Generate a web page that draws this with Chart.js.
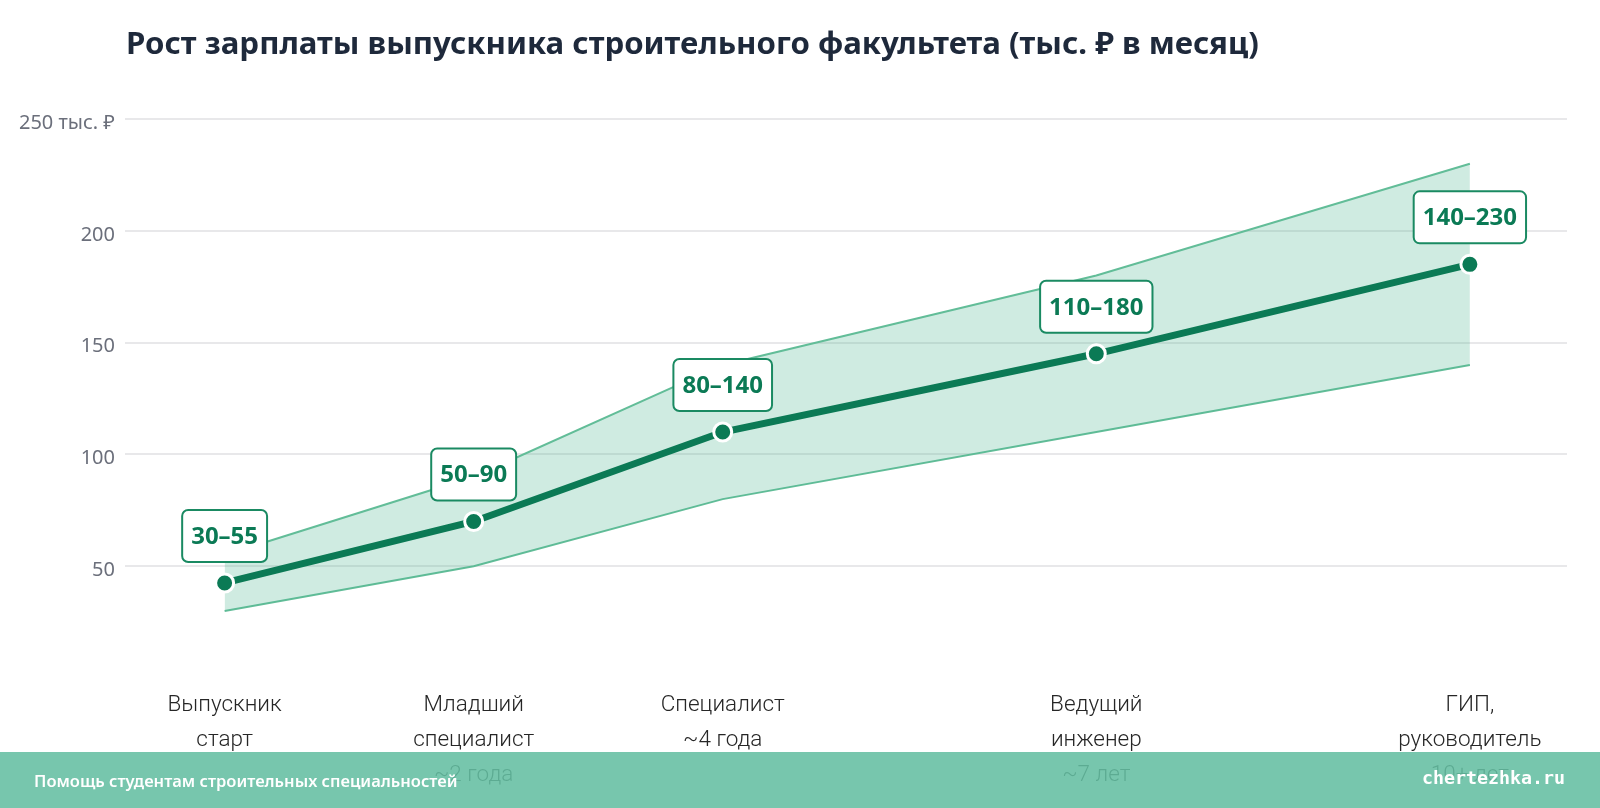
<!DOCTYPE html>
<html lang="ru">
<head>
<meta charset="utf-8">
<script src="https://cdn.jsdelivr.net/npm/chart.js@4"></script>
<style>
  html, body { margin: 0; padding: 0; background: #fff; }
  #wrap { position: relative; width: 1600px; height: 808px; overflow: hidden; }
  #title {
    position: absolute; left: 126px; top: 21px;
    font: 700 31.2px "Noto Sans", sans-serif; color: #1e293b; white-space: nowrap;
  }
  #footer {
    position: absolute; left: 0; top: 752px; width: 1600px; height: 56px;
    background: rgba(100, 190, 162, 0.88);
  }
  #footer .left {
    position: absolute; left: 34px; top: 17px;
    font: 600 16.5px "Noto Sans", sans-serif; color: #fff;
  }
  #footer .right {
    position: absolute; right: 35px; top: 15px;
    font: 700 18.3px "DejaVu Sans Mono", monospace; color: #fff;
  }
</style>
</head>
<body>
<div id="wrap">
  <canvas id="salary-chart" width="1600" height="808"></canvas>
  <div id="title">Рост зарплаты выпускника строительного факультета (тыс. ₽ в месяц)</div>
  <div id="footer">
    <span class="left">Помощь студентам строительных специальностей</span>
    <span class="right">chertezhka.ru</span>
  </div>
</div>
<script>
// Career stages: years of experience on the x axis
const stageYears = [0, 2, 4, 7, 10];
const stageLabels = [
  ["Выпускник", "старт"],
  ["Младший", "специалист", "~2 года"],
  ["Специалист", "~4 года"],
  ["Ведущий", "инженер", "~7 лет"],
  ["ГИП,", "руководитель", "10+ лет"]
];
// Salary range, thousand rubles per month
const salaryLow = [30, 50, 80, 110, 140];
const salaryHigh = [55, 90, 140, 180, 230];
const salaryMid = [42.5, 70, 110, 145, 185];
const rangeLabels = ["30–55", "50–90", "80–140", "110–180", "140–230"];
const yTicks = [0, 50, 100, 150, 200, 250];

const green = "#0b7a55";

function toPoints(values) {
  return stageYears.map((year, i) => ({ x: year, y: values[i] }));
}

// Draws the boxed range labels above each median point
const rangeLabelPlugin = {
  id: "rangeLabels",
  afterDatasetsDraw(chart) {
    const ctx = chart.ctx;
    const meta = chart.getDatasetMeta(2);
    ctx.save();
    ctx.font = "700 24px 'Noto Sans', sans-serif";
    ctx.textAlign = "center";
    ctx.textBaseline = "middle";
    meta.data.forEach((pt, i) => {
      const text = rangeLabels[i];
      const w = ctx.measureText(text).width + 18;
      const h = 52;
      const cx = pt.x;
      const cy = pt.y - 47;
      ctx.beginPath();
      ctx.roundRect(cx - w / 2, cy - h / 2, w, h, 6);
      ctx.fillStyle = "#ffffff";
      ctx.fill();
      ctx.lineWidth = 2;
      ctx.strokeStyle = "#1a8a62";
      ctx.stroke();
      ctx.fillStyle = green;
      ctx.fillText(text, cx, cy + 1);
    });
    ctx.restore();
  }
};

const chart = new Chart(document.getElementById("salary-chart"), {
  type: "line",
  data: {
    datasets: [
      {
        data: toPoints(salaryHigh),
        borderColor: "#62bd98",
        borderWidth: 2,
        backgroundColor: "rgba(79, 181, 143, 0.27)",
        fill: "+1",
        pointRadius: 0,
        order: 2
      },
      {
        data: toPoints(salaryLow),
        borderColor: "#62bd98",
        borderWidth: 2,
        fill: false,
        pointRadius: 0,
        order: 2
      },
      {
        data: toPoints(salaryMid),
        borderColor: green,
        borderWidth: 7,
        fill: false,
        pointRadius: 9,
        pointBorderWidth: 3,
        pointBackgroundColor: green,
        pointBorderColor: "#ffffff",
        order: 0
      }
    ]
  },
  options: {
    responsive: false,
    animation: false,
    layout: { padding: { top: 119, right: 33, left: 0, bottom: 0 } },
    plugins: {
      legend: { display: false },
      tooltip: { enabled: false },
      title: { display: false }
    },
    scales: {
      x: {
        type: "linear",
        min: -0.8,
        max: 10.78,
        afterBuildTicks(scale) {
          scale.ticks = stageYears.map(v => ({ value: v }));
        },
        afterFit(scale) { scale.height = 130; },
        grid: { display: false },
        border: { display: false },
        ticks: {
          autoSkip: false,
          maxRotation: 0,
          padding: 2,
          color: "#262626",
          font: { family: "Roboto", size: 22.5, weight: 300, lineHeight: 1.55 },
          callback(value) {
            const i = stageYears.indexOf(value);
            return i >= 0 ? stageLabels[i] : "";
          }
        }
      },
      y: {
        min: 0,
        max: 250,
        afterBuildTicks(scale) {
          scale.ticks = yTicks.map(v => ({ value: v }));
        },
        afterFit(scale) { scale.width = 125; },
        border: { display: false },
        grid: {
          drawTicks: false,
          lineWidth: 2,
          color: ctx => (ctx.tick && ctx.tick.value === 0 ? "rgba(0,0,0,0)" : "#e8e8ea")
        },
        ticks: {
          padding: 10,
          labelOffset: 4,
          color: "#6b6f7b",
          font: { family: "Noto Sans", size: 20 },
          callback(value) {
            if (value === 0) return "";
            if (value === 250) return "250 тыс. ₽";
            return value;
          }
        }
      }
    }
  },
  plugins: [rangeLabelPlugin]
});
</script>
</body>
</html>
